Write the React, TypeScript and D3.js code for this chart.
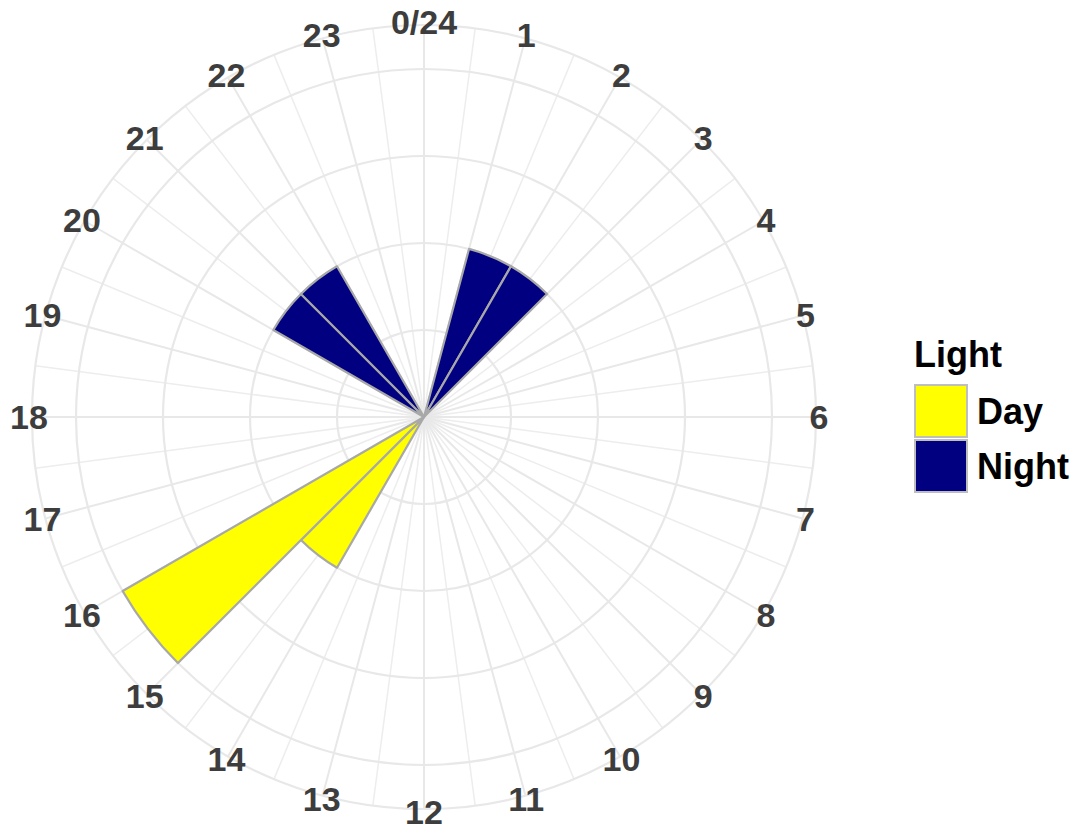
import React from "react";
import * as d3 from "d3";

const hours = [1, 2, 14, 15, 20, 21];
const counts = [1, 1, 1, 2, 1, 1];
const lights = ["Night", "Night", "Day", "Day", "Night", "Night"];
const radialTicks = [0.5, 1, 1.5, 2];
const hourLabels = ["0/24", "1", "2", "3", "4", "5", "6", "7", "8", "9", "10", "11", "12", "13", "14", "15", "16", "17", "18", "19", "20", "21", "22", "23"];
const legendKeys = ["Day", "Night"];
const legendColors = ["#FFFF00", "#000080"];

export default function App() {
  const W = 1080, H = 831;
  const cx = 424, cy = 417;
  const rMax = 348, rOuter = 392, rLabel = 395;
  const r = d3.scaleLinear().domain([0, 2]).range([0, rMax]);
  const theta = d3.scaleLinear().domain([0, 24]).range([0, 2 * Math.PI]);
  const color = d3.scaleOrdinal<string, string>().domain(legendKeys).range(legendColors);
  const arc = d3.arc<any>();

  const majors = d3.range(0, 24);
  const minors = d3.range(0, 24).map((h) => h + 0.5);

  const pt = (h: number, rr: number) => {
    const a = theta(h);
    return [cx + rr * Math.sin(a), cy - rr * Math.cos(a)];
  };

  return (
    <svg width={W} height={H} style={{ position: "absolute", left: 0, top: 0, background: "#fff" }}
      fontFamily="'Liberation Sans', Arial, sans-serif">
      <rect width={W} height={H} fill="#fff" />
      {/* minor theta lines */}
      {minors.map((h) => {
        const [x, y] = pt(h, rOuter);
        return <line key={"mi" + h} x1={cx} y1={cy} x2={x} y2={y} stroke="#EDEDED" strokeWidth={1.5} />;
      })}
      {/* major theta lines */}
      {majors.map((h) => {
        const [x, y] = pt(h, rOuter);
        return <line key={"ma" + h} x1={cx} y1={cy} x2={x} y2={y} stroke="#E8E8E8" strokeWidth={2} />;
      })}
      {/* radial circles */}
      {radialTicks.map((t) => (
        <circle key={"c" + t} cx={cx} cy={cy} r={r(t)} fill="none" stroke="#E8E8E8" strokeWidth={2.2} />
      ))}
      <circle cx={cx} cy={cy} r={rOuter} fill="none" stroke="#E8E8E8" strokeWidth={2.2} />
      {/* bars */}
      <g transform={`translate(${cx},${cy})`}>
        {hours.map((h, i) => (
          <path key={"b" + i}
            d={arc({ innerRadius: 0, outerRadius: r(counts[i]), startAngle: theta(h), endAngle: theta(h + 1) }) as string}
            fill={color(lights[i])} stroke="#A8A8A8" strokeWidth={2.2} strokeLinejoin="round" />
        ))}
      </g>
      {/* theta labels */}
      {majors.map((h) => {
        const [x, y] = pt(h, rLabel);
        return (
          <text key={"l" + h} x={x} y={y} textAnchor="middle" dominantBaseline="central"
            fontSize={34} fontWeight="bold" fill="#3D3D3D">{hourLabels[h]}</text>
        );
      })}
      {/* legend */}
      <text x={914} y={367} fontSize={36} fontWeight="bold" fill="#000">Light</text>
      {legendKeys.map((k, i) => (
        <g key={"lg" + k}>
          <rect x={915} y={385 + i * 55} width={52} height={52} fill={legendColors[i]} stroke="#BEBEBE" strokeWidth={2} />
          <text x={977} y={424 + i * 55} fontSize={36} fontWeight="bold" fill="#000">{k}</text>
        </g>
      ))}
    </svg>
  );
}
